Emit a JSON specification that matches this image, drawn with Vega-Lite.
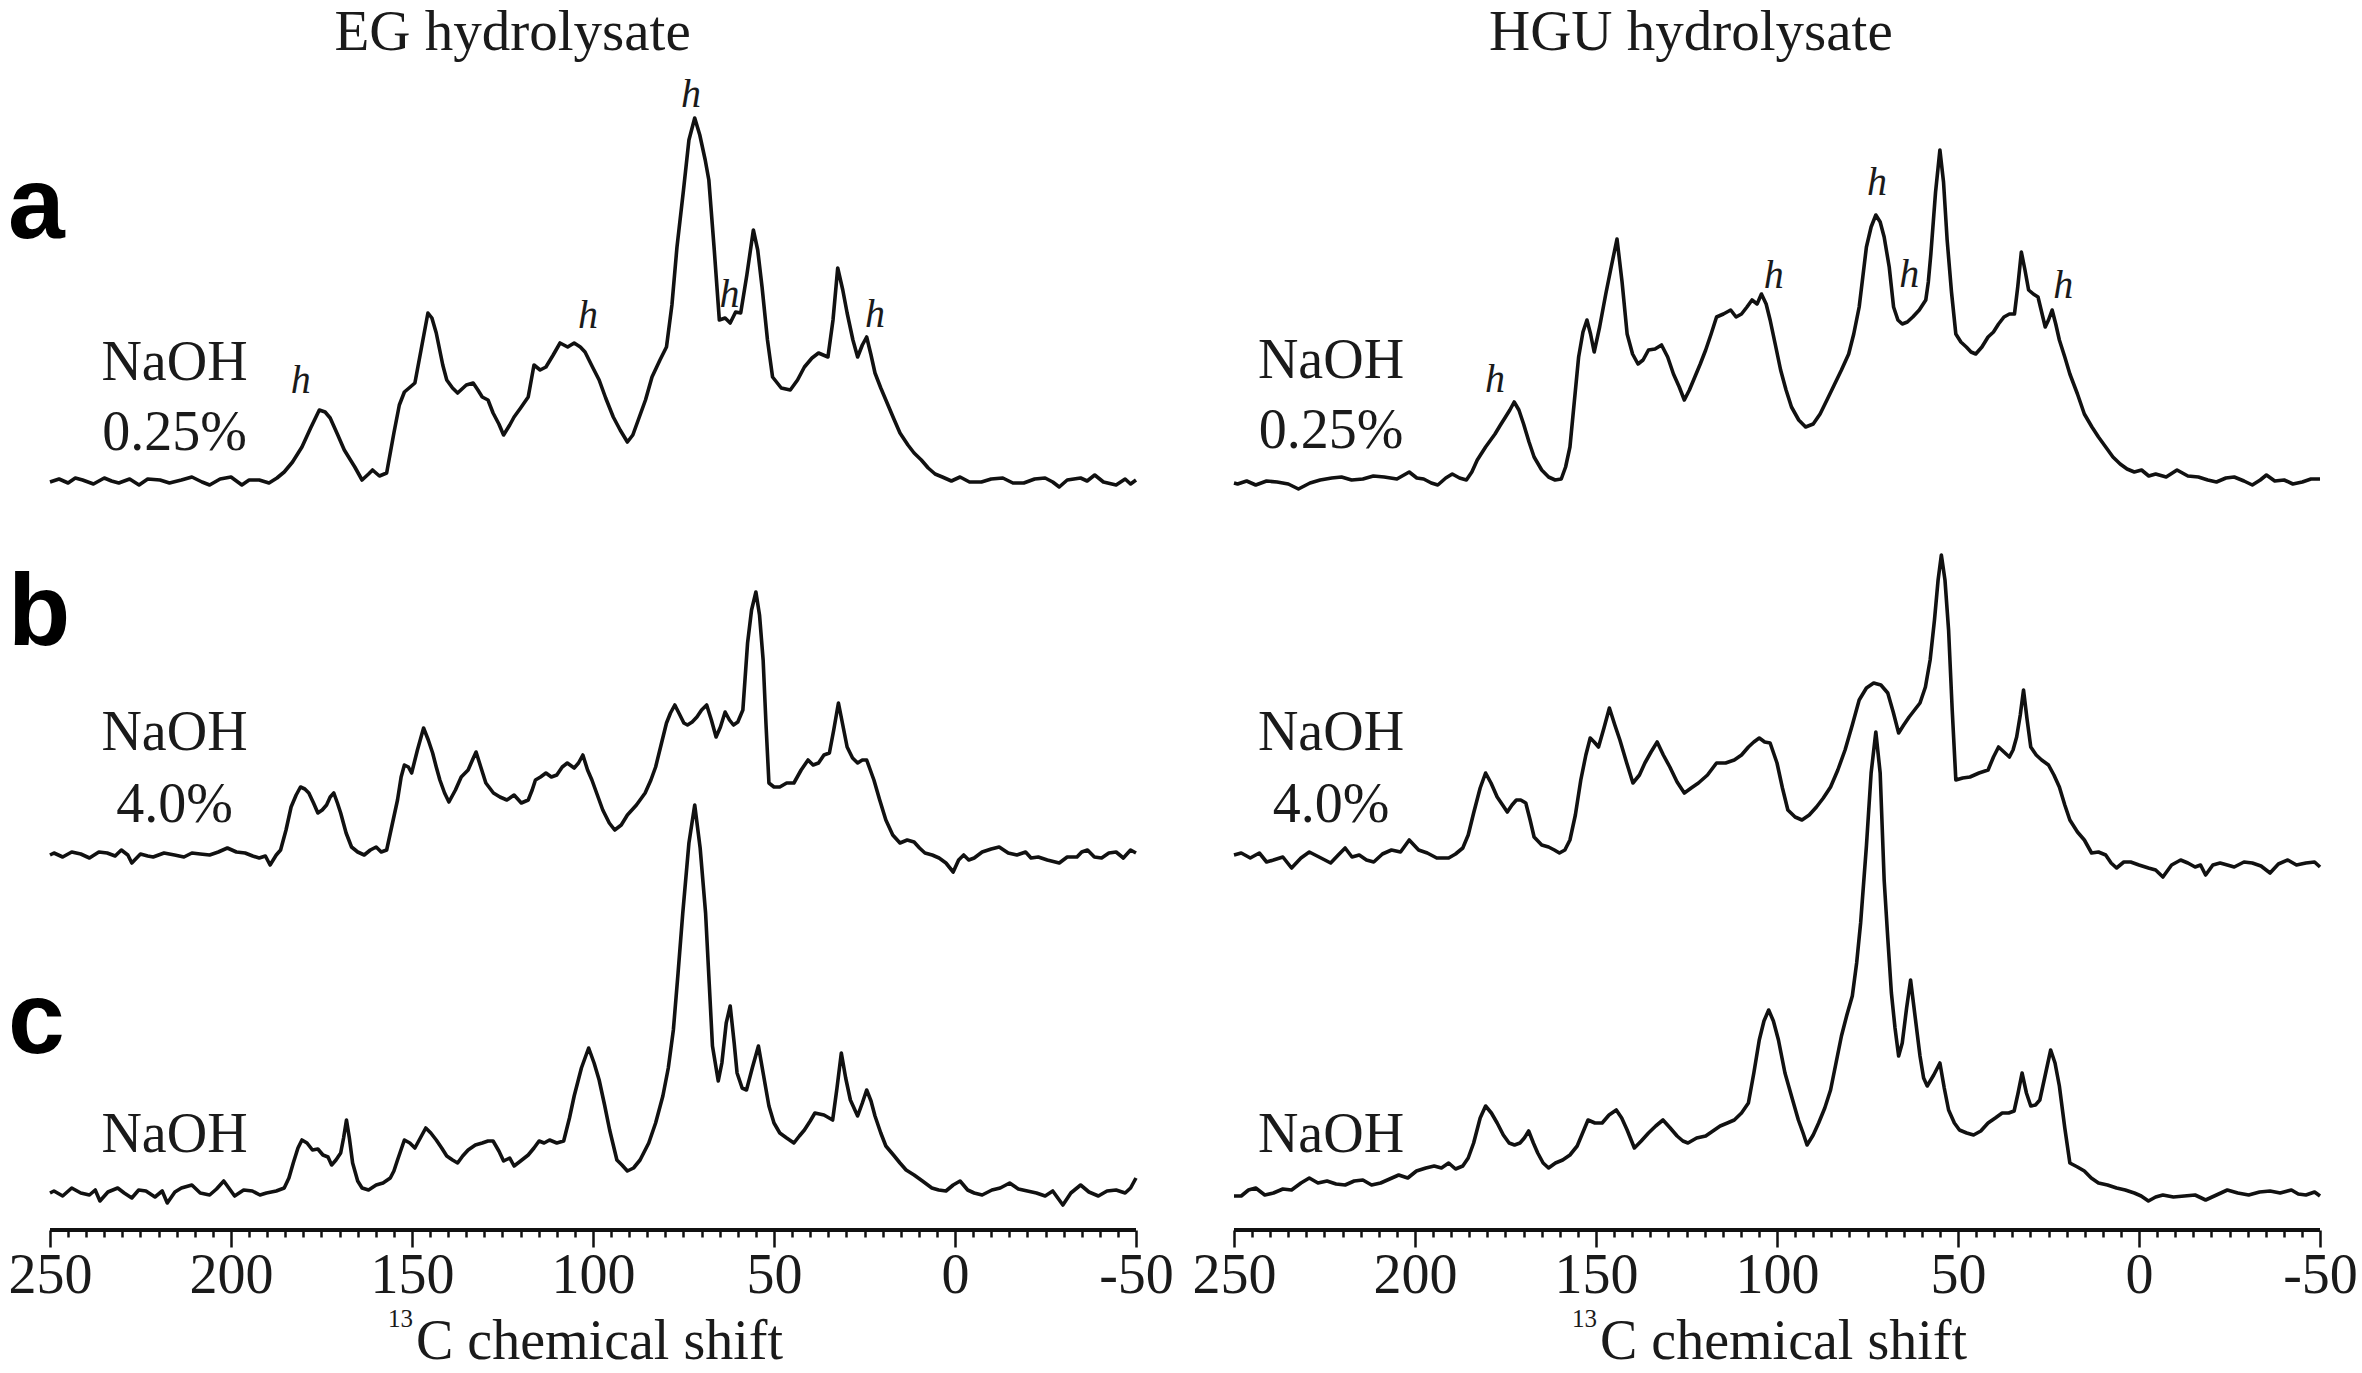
{
  "$schema": "https://vega.github.io/schema/vega-lite/v6.json",
  "description": "13C NMR spectra of EG and HGU hydrolysates at three NaOH levels.",
  "width": 2362,
  "height": 1373,
  "autosize": {"type": "none"},
  "padding": 0,
  "background": "white",
  "datasets": {
    "EGa": [
      {"ppm":250,"v":-2},{"ppm":247.5,"v":1},{"ppm":245,"v":-3},{"ppm":243,"v":2},{"ppm":241,"v":0},{"ppm":238,"v":-4},{"ppm":235,"v":2},{"ppm":233,"v":-1},{"ppm":231,"v":-3},{"ppm":228,"v":1},{"ppm":225.4,"v":-5},{"ppm":223,"v":1},{"ppm":219.6,"v":0},{"ppm":217,"v":-3},{"ppm":213.7,"v":0},{"ppm":210.8,"v":3},{"ppm":208,"v":-2},{"ppm":205.9,"v":-5},{"ppm":203,"v":1},{"ppm":200,"v":3},{"ppm":197,"v":-5},{"ppm":195,"v":0},{"ppm":192.2,"v":0},{"ppm":189.5,"v":-3},{"ppm":187.3,"v":2},{"ppm":185.3,"v":8},{"ppm":183,"v":18},{"ppm":180.4,"v":33},{"ppm":178,"v":52},{"ppm":175.6,"v":70},{"ppm":174,"v":68},{"ppm":172.6,"v":62},{"ppm":170.5,"v":45},{"ppm":168.7,"v":30},{"ppm":167,"v":20},{"ppm":165.8,"v":13},{"ppm":163.8,"v":0},{"ppm":162,"v":6},{"ppm":160.9,"v":10},{"ppm":159,"v":4},{"ppm":157,"v":7},{"ppm":155,"v":47},{"ppm":153.5,"v":75},{"ppm":152.1,"v":88},{"ppm":149.2,"v":97},{"ppm":147.5,"v":130},{"ppm":145.6,"v":167},{"ppm":144.5,"v":162},{"ppm":143.3,"v":147},{"ppm":141.5,"v":115},{"ppm":140.4,"v":100},{"ppm":138.8,"v":92},{"ppm":137.4,"v":87},{"ppm":135,"v":95},{"ppm":133.1,"v":97},{"ppm":131.8,"v":90},{"ppm":130.6,"v":83},{"ppm":129,"v":80},{"ppm":127.6,"v":67},{"ppm":126,"v":56},{"ppm":124.7,"v":45},{"ppm":123,"v":55},{"ppm":121.8,"v":63},{"ppm":120,"v":72},{"ppm":117.9,"v":83},{"ppm":116.3,"v":115},{"ppm":114.6,"v":110},{"ppm":113,"v":113},{"ppm":111,"v":125},{"ppm":109.1,"v":137},{"ppm":107,"v":133},{"ppm":105.2,"v":137},{"ppm":103.5,"v":133},{"ppm":102.2,"v":128},{"ppm":100,"v":112},{"ppm":98.3,"v":100},{"ppm":96.5,"v":82},{"ppm":94.4,"v":63},{"ppm":92.5,"v":50},{"ppm":90.5,"v":38},{"ppm":89,"v":45},{"ppm":87.5,"v":60},{"ppm":85.5,"v":80},{"ppm":83.7,"v":103},{"ppm":81.5,"v":120},{"ppm":79.7,"v":133},{"ppm":78.2,"v":175},{"ppm":76.8,"v":233},{"ppm":75,"v":290},{"ppm":73.5,"v":340},{"ppm":71.9,"v":362},{"ppm":70.5,"v":345},{"ppm":69,"v":320},{"ppm":68,"v":300},{"ppm":66.5,"v":230},{"ppm":65.1,"v":160},{"ppm":63.5,"v":162},{"ppm":62.1,"v":157},{"ppm":60.6,"v":168},{"ppm":59.2,"v":167},{"ppm":57.5,"v":205},{"ppm":55.7,"v":250},{"ppm":54.5,"v":230},{"ppm":53.3,"v":193},{"ppm":51.8,"v":140},{"ppm":50.4,"v":103},{"ppm":48,"v":92},{"ppm":45.5,"v":90},{"ppm":43.5,"v":100},{"ppm":41.6,"v":113},{"ppm":39.5,"v":122},{"ppm":37.7,"v":127},{"ppm":35.1,"v":123},{"ppm":33.7,"v":160},{"ppm":32.4,"v":212},{"ppm":31,"v":190},{"ppm":29.8,"v":167},{"ppm":28.2,"v":140},{"ppm":26.9,"v":123},{"ppm":25.6,"v":135},{"ppm":24.4,"v":143},{"ppm":23.2,"v":125},{"ppm":22.1,"v":107},{"ppm":20.5,"v":92},{"ppm":19.1,"v":80},{"ppm":17,"v":62},{"ppm":15.2,"v":47},{"ppm":13,"v":35},{"ppm":11.3,"v":27},{"ppm":9.3,"v":20},{"ppm":7.4,"v":12},{"ppm":5.5,"v":6},{"ppm":3.5,"v":3},{"ppm":1,"v":-1},{"ppm":-1.4,"v":3},{"ppm":-4,"v":-2},{"ppm":-7.3,"v":-2},{"ppm":-10,"v":1},{"ppm":-13.2,"v":2},{"ppm":-16,"v":-3},{"ppm":-19,"v":-3},{"ppm":-22,"v":1},{"ppm":-24.9,"v":2},{"ppm":-27,"v":-2},{"ppm":-28.8,"v":-7},{"ppm":-31,"v":0},{"ppm":-34.7,"v":2},{"ppm":-36.5,"v":-1},{"ppm":-38.6,"v":5},{"ppm":-41,"v":-2},{"ppm":-44.5,"v":-5},{"ppm":-47,"v":1},{"ppm":-48.5,"v":-4},{"ppm":-50,"v":0}
    ],
    "EGb": [
      {"ppm":250,"v":0},{"ppm":248.9,"v":2},{"ppm":246.5,"v":-2},{"ppm":244,"v":3},{"ppm":241.5,"v":1},{"ppm":239.1,"v":-3},{"ppm":236.5,"v":3},{"ppm":234.2,"v":2},{"ppm":232,"v":-1},{"ppm":230.3,"v":5},{"ppm":228.5,"v":0},{"ppm":227.4,"v":-8},{"ppm":225,"v":1},{"ppm":223,"v":-1},{"ppm":221.5,"v":-2},{"ppm":218.5,"v":2},{"ppm":215.6,"v":0},{"ppm":213,"v":-2},{"ppm":210.8,"v":2},{"ppm":208.5,"v":1},{"ppm":205.9,"v":0},{"ppm":203.5,"v":3},{"ppm":201,"v":7},{"ppm":198.5,"v":3},{"ppm":196.1,"v":2},{"ppm":194,"v":-1},{"ppm":192.2,"v":-3},{"ppm":190.5,"v":-1},{"ppm":189.2,"v":-10},{"ppm":187.5,"v":0},{"ppm":186.3,"v":5},{"ppm":184.8,"v":25},{"ppm":183.4,"v":48},{"ppm":182,"v":60},{"ppm":180.8,"v":68},{"ppm":179.6,"v":66},{"ppm":178.5,"v":62},{"ppm":177.2,"v":52},{"ppm":176,"v":42},{"ppm":174.8,"v":45},{"ppm":173.6,"v":50},{"ppm":172.6,"v":58},{"ppm":171.6,"v":62},{"ppm":170.6,"v":52},{"ppm":169.7,"v":42},{"ppm":168.2,"v":22},{"ppm":166.7,"v":8},{"ppm":165,"v":3},{"ppm":163.2,"v":0},{"ppm":161.5,"v":5},{"ppm":159.9,"v":8},{"ppm":158.5,"v":3},{"ppm":157,"v":5},{"ppm":155.5,"v":30},{"ppm":154,"v":55},{"ppm":153,"v":78},{"ppm":152.1,"v":90},{"ppm":151,"v":88},{"ppm":150.1,"v":82},{"ppm":148.5,"v":105},{"ppm":146.8,"v":127},{"ppm":145.5,"v":115},{"ppm":144.3,"v":102},{"ppm":143.3,"v":88},{"ppm":142.3,"v":75},{"ppm":141,"v":62},{"ppm":139.8,"v":53},{"ppm":138,"v":65},{"ppm":136.4,"v":78},{"ppm":134.5,"v":85},{"ppm":133.3,"v":95},{"ppm":132.3,"v":103},{"ppm":131,"v":88},{"ppm":129.6,"v":72},{"ppm":127.5,"v":62},{"ppm":125.7,"v":58},{"ppm":123.8,"v":55},{"ppm":121.8,"v":60},{"ppm":119.8,"v":52},{"ppm":117.9,"v":55},{"ppm":116.8,"v":65},{"ppm":115.9,"v":75},{"ppm":114.5,"v":78},{"ppm":113,"v":82},{"ppm":111.5,"v":78},{"ppm":110,"v":80},{"ppm":108.5,"v":88},{"ppm":107.1,"v":92},{"ppm":105.2,"v":87},{"ppm":104,"v":92},{"ppm":102.8,"v":100},{"ppm":101.5,"v":85},{"ppm":100.3,"v":75},{"ppm":98.8,"v":60},{"ppm":97.3,"v":45},{"ppm":95.5,"v":32},{"ppm":94,"v":25},{"ppm":92.2,"v":30},{"ppm":90.5,"v":40},{"ppm":88,"v":50},{"ppm":85.6,"v":62},{"ppm":84,"v":75},{"ppm":82.7,"v":88},{"ppm":81.2,"v":110},{"ppm":79.7,"v":132},{"ppm":78.6,"v":142},{"ppm":77.4,"v":150},{"ppm":76,"v":140},{"ppm":74.9,"v":132},{"ppm":73.9,"v":130},{"ppm":72.6,"v":133},{"ppm":71.3,"v":138},{"ppm":70,"v":145},{"ppm":68.6,"v":150},{"ppm":67.3,"v":135},{"ppm":66,"v":118},{"ppm":64.8,"v":128},{"ppm":63.5,"v":143},{"ppm":62.3,"v":135},{"ppm":61.2,"v":130},{"ppm":60,"v":133},{"ppm":58.6,"v":145},{"ppm":57.3,"v":212},{"ppm":56.2,"v":245},{"ppm":55,"v":263},{"ppm":54,"v":240},{"ppm":53,"v":195},{"ppm":52.2,"v":130},{"ppm":51.4,"v":72},{"ppm":50,"v":68},{"ppm":48.4,"v":68},{"ppm":46.5,"v":72},{"ppm":44.5,"v":72},{"ppm":42.5,"v":85},{"ppm":40.6,"v":95},{"ppm":39.2,"v":90},{"ppm":37.7,"v":92},{"ppm":36.2,"v":100},{"ppm":34.7,"v":102},{"ppm":33.5,"v":125},{"ppm":32.2,"v":152},{"ppm":31,"v":130},{"ppm":29.8,"v":108},{"ppm":28.3,"v":97},{"ppm":26.9,"v":92},{"ppm":25.6,"v":95},{"ppm":24.4,"v":95},{"ppm":23.4,"v":85},{"ppm":22.4,"v":75},{"ppm":20.8,"v":55},{"ppm":19.1,"v":35},{"ppm":17.2,"v":20},{"ppm":15.2,"v":12},{"ppm":13.2,"v":15},{"ppm":11.3,"v":13},{"ppm":9.8,"v":7},{"ppm":8.3,"v":2},{"ppm":6.3,"v":0},{"ppm":4.4,"v":-3},{"ppm":2.5,"v":-8},{"ppm":0.5,"v":-17},{"ppm":-1,"v":-5},{"ppm":-2.4,"v":0},{"ppm":-3.8,"v":-5},{"ppm":-5.3,"v":-3},{"ppm":-7.5,"v":3},{"ppm":-10,"v":6},{"ppm":-12.2,"v":8},{"ppm":-14.7,"v":2},{"ppm":-17.1,"v":0},{"ppm":-19.5,"v":3},{"ppm":-21,"v":-3},{"ppm":-23,"v":-2},{"ppm":-25.5,"v":-5},{"ppm":-28.8,"v":-8},{"ppm":-31,"v":-2},{"ppm":-33.7,"v":-2},{"ppm":-35,"v":3},{"ppm":-36.6,"v":5},{"ppm":-38.5,"v":-2},{"ppm":-40.5,"v":-3},{"ppm":-42.5,"v":2},{"ppm":-44.5,"v":3},{"ppm":-46.5,"v":-3},{"ppm":-48.5,"v":5},{"ppm":-50,"v":2}
    ],
    "EGc": [
      {"ppm":250,"v":0},{"ppm":248.9,"v":2},{"ppm":246.5,"v":-3},{"ppm":244,"v":5},{"ppm":241.5,"v":0},{"ppm":239.1,"v":-2},{"ppm":237.5,"v":3},{"ppm":236.2,"v":-8},{"ppm":234,"v":1},{"ppm":231.3,"v":5},{"ppm":229.5,"v":0},{"ppm":227.4,"v":-5},{"ppm":225.5,"v":3},{"ppm":223.5,"v":2},{"ppm":221,"v":-4},{"ppm":219,"v":2},{"ppm":217.6,"v":-10},{"ppm":215.5,"v":1},{"ppm":213.7,"v":5},{"ppm":210.8,"v":8},{"ppm":208.5,"v":0},{"ppm":205.9,"v":-2},{"ppm":204,"v":4},{"ppm":202,"v":12},{"ppm":199,"v":-3},{"ppm":196.5,"v":3},{"ppm":194.1,"v":2},{"ppm":192,"v":-2},{"ppm":190.2,"v":0},{"ppm":187.5,"v":2},{"ppm":185.3,"v":5},{"ppm":184,"v":15},{"ppm":182.8,"v":30},{"ppm":181.5,"v":45},{"ppm":180.4,"v":53},{"ppm":179,"v":50},{"ppm":177.5,"v":43},{"ppm":176,"v":44},{"ppm":174.6,"v":38},{"ppm":173.2,"v":36},{"ppm":172.2,"v":28},{"ppm":171,"v":33},{"ppm":169.7,"v":40},{"ppm":168.9,"v":55},{"ppm":168.1,"v":73},{"ppm":167.3,"v":55},{"ppm":166.4,"v":30},{"ppm":165,"v":12},{"ppm":163.8,"v":5},{"ppm":162,"v":3},{"ppm":159.9,"v":8},{"ppm":158,"v":10},{"ppm":156,"v":15},{"ppm":155,"v":22},{"ppm":154,"v":33},{"ppm":152.1,"v":53},{"ppm":150.6,"v":50},{"ppm":149.2,"v":45},{"ppm":147.7,"v":55},{"ppm":146.2,"v":65},{"ppm":144.8,"v":60},{"ppm":143.3,"v":53},{"ppm":141.8,"v":45},{"ppm":140.4,"v":37},{"ppm":138.8,"v":33},{"ppm":137.4,"v":30},{"ppm":136,"v":37},{"ppm":134.5,"v":43},{"ppm":132.5,"v":48},{"ppm":130.6,"v":50},{"ppm":129,"v":52},{"ppm":127.6,"v":52},{"ppm":126,"v":42},{"ppm":124.7,"v":32},{"ppm":123,"v":35},{"ppm":121.8,"v":27},{"ppm":120,"v":32},{"ppm":117.9,"v":38},{"ppm":116.3,"v":45},{"ppm":114.9,"v":52},{"ppm":113.5,"v":50},{"ppm":112,"v":53},{"ppm":110,"v":50},{"ppm":108.1,"v":52},{"ppm":106.5,"v":75},{"ppm":105.2,"v":97},{"ppm":103.2,"v":125},{"ppm":101.2,"v":145},{"ppm":99.7,"v":130},{"ppm":98.3,"v":113},{"ppm":96.8,"v":88},{"ppm":95.4,"v":63},{"ppm":93.4,"v":33},{"ppm":92,"v":28},{"ppm":90.5,"v":22},{"ppm":88.8,"v":25},{"ppm":87,"v":33},{"ppm":84.6,"v":50},{"ppm":82.7,"v":70},{"ppm":80.7,"v":97},{"ppm":79.2,"v":125},{"ppm":77.8,"v":163},{"ppm":76.5,"v":220},{"ppm":75.2,"v":280},{"ppm":73.5,"v":350},{"ppm":71.9,"v":388},{"ppm":70.4,"v":345},{"ppm":68.9,"v":280},{"ppm":67.9,"v":210},{"ppm":67,"v":147},{"ppm":65.4,"v":112},{"ppm":64.4,"v":130},{"ppm":63.2,"v":170},{"ppm":62.1,"v":187},{"ppm":61,"v":150},{"ppm":60.2,"v":120},{"ppm":58.8,"v":105},{"ppm":57.6,"v":103},{"ppm":56,"v":125},{"ppm":54.3,"v":147},{"ppm":53,"v":120},{"ppm":51.4,"v":87},{"ppm":50,"v":70},{"ppm":48.4,"v":60},{"ppm":46.5,"v":55},{"ppm":44.5,"v":50},{"ppm":43,"v":57},{"ppm":41.6,"v":63},{"ppm":40,"v":72},{"ppm":38.7,"v":80},{"ppm":36.2,"v":78},{"ppm":33.8,"v":73},{"ppm":32.6,"v":105},{"ppm":31.4,"v":140},{"ppm":30.2,"v":115},{"ppm":28.9,"v":93},{"ppm":26.9,"v":77},{"ppm":25.6,"v":90},{"ppm":24.4,"v":103},{"ppm":23.2,"v":92},{"ppm":22.1,"v":77},{"ppm":20.5,"v":60},{"ppm":19.1,"v":47},{"ppm":17,"v":38},{"ppm":15.2,"v":30},{"ppm":13.5,"v":23},{"ppm":11.3,"v":18},{"ppm":9,"v":12},{"ppm":6.4,"v":5},{"ppm":4.5,"v":3},{"ppm":2.5,"v":2},{"ppm":0.5,"v":8},{"ppm":-1.4,"v":12},{"ppm":-3.5,"v":3},{"ppm":-5.3,"v":0},{"ppm":-7.5,"v":-2},{"ppm":-10.2,"v":3},{"ppm":-12.5,"v":5},{"ppm":-15.1,"v":10},{"ppm":-17.5,"v":4},{"ppm":-20,"v":2},{"ppm":-22.5,"v":0},{"ppm":-24.9,"v":-3},{"ppm":-27,"v":2},{"ppm":-29.8,"v":-12},{"ppm":-32,"v":0},{"ppm":-34.7,"v":8},{"ppm":-37,"v":1},{"ppm":-39.6,"v":-3},{"ppm":-42,"v":2},{"ppm":-44.5,"v":3},{"ppm":-47,"v":0},{"ppm":-48.5,"v":5},{"ppm":-50,"v":15}
    ],
    "HGUa": [
      {"ppm":250,"v":-1},{"ppm":249,"v":-2},{"ppm":246.5,"v":1},{"ppm":244,"v":-3},{"ppm":241,"v":1},{"ppm":238.1,"v":0},{"ppm":235,"v":-2},{"ppm":232.2,"v":-7},{"ppm":229,"v":-1},{"ppm":226.2,"v":2},{"ppm":223,"v":4},{"ppm":220.3,"v":5},{"ppm":217.5,"v":2},{"ppm":214.4,"v":3},{"ppm":211.5,"v":6},{"ppm":208.5,"v":5},{"ppm":205,"v":3},{"ppm":201.6,"v":10},{"ppm":199.5,"v":4},{"ppm":197.6,"v":3},{"ppm":195.5,"v":-1},{"ppm":193.7,"v":-3},{"ppm":191.5,"v":4},{"ppm":189.7,"v":8},{"ppm":187.7,"v":4},{"ppm":185.8,"v":2},{"ppm":184.3,"v":10},{"ppm":182.8,"v":22},{"ppm":180.5,"v":35},{"ppm":177.9,"v":48},{"ppm":176.4,"v":57},{"ppm":175,"v":65},{"ppm":173.8,"v":72},{"ppm":172.6,"v":80},{"ppm":171.3,"v":72},{"ppm":170,"v":58},{"ppm":168.5,"v":40},{"ppm":167.1,"v":25},{"ppm":165,"v":12},{"ppm":163.1,"v":5},{"ppm":161.3,"v":2},{"ppm":159.6,"v":3},{"ppm":158.4,"v":15},{"ppm":157.2,"v":35},{"ppm":156,"v":80},{"ppm":154.8,"v":125},{"ppm":153.6,"v":150},{"ppm":152.5,"v":162},{"ppm":151.5,"v":148},{"ppm":150.5,"v":130},{"ppm":149,"v":155},{"ppm":147.3,"v":188},{"ppm":145.8,"v":215},{"ppm":144.2,"v":243},{"ppm":142.8,"v":200},{"ppm":141.4,"v":148},{"ppm":139.9,"v":128},{"ppm":138.4,"v":118},{"ppm":137,"v":122},{"ppm":135.5,"v":132},{"ppm":133.7,"v":133},{"ppm":131.9,"v":137},{"ppm":130.2,"v":125},{"ppm":128.6,"v":108},{"ppm":127,"v":95},{"ppm":125.6,"v":82},{"ppm":124.2,"v":92},{"ppm":122.7,"v":105},{"ppm":121.2,"v":118},{"ppm":119.7,"v":132},{"ppm":118.2,"v":148},{"ppm":116.7,"v":165},{"ppm":114.8,"v":168},{"ppm":112.8,"v":172},{"ppm":111.3,"v":165},{"ppm":109.8,"v":168},{"ppm":108.3,"v":175},{"ppm":106.9,"v":182},{"ppm":105.5,"v":178},{"ppm":104.3,"v":188},{"ppm":103,"v":178},{"ppm":101.9,"v":162},{"ppm":100.5,"v":138},{"ppm":99,"v":112},{"ppm":97.5,"v":92},{"ppm":96,"v":75},{"ppm":94,"v":62},{"ppm":92.1,"v":55},{"ppm":90,"v":58},{"ppm":88.1,"v":68},{"ppm":86.2,"v":82},{"ppm":84.2,"v":97},{"ppm":82.2,"v":112},{"ppm":80.2,"v":128},{"ppm":78.8,"v":148},{"ppm":77.3,"v":175},{"ppm":76.3,"v":205},{"ppm":75.3,"v":235},{"ppm":74,"v":255},{"ppm":72.7,"v":267},{"ppm":71.5,"v":260},{"ppm":70.4,"v":245},{"ppm":69,"v":215},{"ppm":67.8,"v":175},{"ppm":66.6,"v":162},{"ppm":65.4,"v":158},{"ppm":64,"v":160},{"ppm":62.5,"v":165},{"ppm":60.7,"v":172},{"ppm":58.9,"v":182},{"ppm":58.2,"v":200},{"ppm":57.5,"v":228},{"ppm":56.2,"v":290},{"ppm":55,"v":332},{"ppm":54,"v":300},{"ppm":53,"v":242},{"ppm":51.8,"v":190},{"ppm":50.6,"v":148},{"ppm":49.2,"v":140},{"ppm":47.7,"v":135},{"ppm":46.4,"v":130},{"ppm":45.1,"v":128},{"ppm":43.4,"v":135},{"ppm":41.7,"v":145},{"ppm":40.2,"v":150},{"ppm":38.8,"v":158},{"ppm":37.3,"v":165},{"ppm":35.8,"v":168},{"ppm":34.4,"v":168},{"ppm":33.5,"v":195},{"ppm":32.5,"v":230},{"ppm":31.5,"v":212},{"ppm":30.5,"v":192},{"ppm":29.2,"v":188},{"ppm":27.9,"v":185},{"ppm":26.9,"v":170},{"ppm":25.9,"v":155},{"ppm":25,"v":162},{"ppm":24,"v":172},{"ppm":23,"v":158},{"ppm":22,"v":142},{"ppm":20.5,"v":125},{"ppm":19.1,"v":108},{"ppm":17,"v":88},{"ppm":15.1,"v":68},{"ppm":13,"v":55},{"ppm":11.2,"v":45},{"ppm":9.2,"v":35},{"ppm":7.2,"v":25},{"ppm":5.2,"v":18},{"ppm":3.3,"v":13},{"ppm":1.3,"v":10},{"ppm":-0.7,"v":12},{"ppm":-2.7,"v":6},{"ppm":-4.6,"v":8},{"ppm":-7.5,"v":5},{"ppm":-10.5,"v":12},{"ppm":-13.5,"v":6},{"ppm":-16.4,"v":5},{"ppm":-19,"v":2},{"ppm":-21.4,"v":0},{"ppm":-24,"v":4},{"ppm":-26.3,"v":5},{"ppm":-29,"v":1},{"ppm":-31.3,"v":-3},{"ppm":-33.5,"v":2},{"ppm":-35.2,"v":7},{"ppm":-37.5,"v":1},{"ppm":-40.1,"v":2},{"ppm":-42.5,"v":-2},{"ppm":-45.1,"v":0},{"ppm":-47.5,"v":3},{"ppm":-50,"v":3}
    ],
    "HGUb": [
      {"ppm":250,"v":5},{"ppm":248,"v":7},{"ppm":245.5,"v":2},{"ppm":243,"v":7},{"ppm":241,"v":-2},{"ppm":239.1,"v":0},{"ppm":236.5,"v":3},{"ppm":234.1,"v":-8},{"ppm":231.5,"v":2},{"ppm":229.2,"v":8},{"ppm":226.5,"v":3},{"ppm":223.3,"v":-3},{"ppm":221.2,"v":5},{"ppm":219.3,"v":12},{"ppm":217.4,"v":3},{"ppm":215.4,"v":5},{"ppm":213.4,"v":0},{"ppm":211.4,"v":-2},{"ppm":209,"v":6},{"ppm":206.5,"v":10},{"ppm":204,"v":8},{"ppm":201.6,"v":20},{"ppm":199,"v":10},{"ppm":196.6,"v":7},{"ppm":194,"v":2},{"ppm":190.7,"v":2},{"ppm":188.8,"v":6},{"ppm":186.8,"v":12},{"ppm":185.3,"v":25},{"ppm":183.8,"v":47},{"ppm":182,"v":72},{"ppm":180.5,"v":87},{"ppm":179,"v":77},{"ppm":177.3,"v":63},{"ppm":175.8,"v":55},{"ppm":174.5,"v":48},{"ppm":173.2,"v":55},{"ppm":172,"v":60},{"ppm":170.8,"v":60},{"ppm":169.4,"v":57},{"ppm":168.2,"v":40},{"ppm":167.1,"v":23},{"ppm":165,"v":15},{"ppm":163.1,"v":13},{"ppm":161.5,"v":10},{"ppm":160.1,"v":7},{"ppm":158.6,"v":10},{"ppm":157.2,"v":20},{"ppm":155.7,"v":45},{"ppm":154.2,"v":80},{"ppm":152.8,"v":105},{"ppm":151.6,"v":122},{"ppm":150.5,"v":118},{"ppm":149.3,"v":113},{"ppm":147.8,"v":132},{"ppm":146.3,"v":152},{"ppm":144.8,"v":135},{"ppm":143.4,"v":120},{"ppm":141.6,"v":98},{"ppm":139.8,"v":77},{"ppm":138,"v":85},{"ppm":136.5,"v":97},{"ppm":134.8,"v":108},{"ppm":133.1,"v":118},{"ppm":131.4,"v":105},{"ppm":129.6,"v":93},{"ppm":127.6,"v":78},{"ppm":125.6,"v":67},{"ppm":123.7,"v":72},{"ppm":121.7,"v":77},{"ppm":119.2,"v":85},{"ppm":116.7,"v":97},{"ppm":114.2,"v":97},{"ppm":111.8,"v":100},{"ppm":109.8,"v":105},{"ppm":107.9,"v":113},{"ppm":106.4,"v":118},{"ppm":104.9,"v":122},{"ppm":103.4,"v":118},{"ppm":101.9,"v":117},{"ppm":100,"v":97},{"ppm":98.5,"v":72},{"ppm":97,"v":50},{"ppm":95,"v":43},{"ppm":93.1,"v":40},{"ppm":91.1,"v":45},{"ppm":89.1,"v":53},{"ppm":87.2,"v":62},{"ppm":85.2,"v":73},{"ppm":83.2,"v":90},{"ppm":81.2,"v":110},{"ppm":79.2,"v":135},{"ppm":77.3,"v":160},{"ppm":75.3,"v":172},{"ppm":73.3,"v":177},{"ppm":71.3,"v":175},{"ppm":69.4,"v":167},{"ppm":67.9,"v":148},{"ppm":66.4,"v":127},{"ppm":65,"v":135},{"ppm":63.5,"v":143},{"ppm":62,"v":150},{"ppm":60.5,"v":157},{"ppm":59,"v":173},{"ppm":57.7,"v":200},{"ppm":56.5,"v":240},{"ppm":55.5,"v":280},{"ppm":54.6,"v":305},{"ppm":53.6,"v":280},{"ppm":52.6,"v":230},{"ppm":51.6,"v":150},{"ppm":50.6,"v":80},{"ppm":48.7,"v":82},{"ppm":46.7,"v":83},{"ppm":44.2,"v":87},{"ppm":41.7,"v":90},{"ppm":40.2,"v":103},{"ppm":38.8,"v":113},{"ppm":37.3,"v":108},{"ppm":35.8,"v":103},{"ppm":34.8,"v":110},{"ppm":33.8,"v":123},{"ppm":32.8,"v":145},{"ppm":31.9,"v":170},{"ppm":30.9,"v":140},{"ppm":29.9,"v":113},{"ppm":28.4,"v":105},{"ppm":26.9,"v":100},{"ppm":25,"v":95},{"ppm":23.5,"v":85},{"ppm":22,"v":73},{"ppm":20.5,"v":55},{"ppm":19.1,"v":40},{"ppm":17,"v":28},{"ppm":15.1,"v":20},{"ppm":13.1,"v":7},{"ppm":11.2,"v":8},{"ppm":9.2,"v":5},{"ppm":7.7,"v":-3},{"ppm":6.2,"v":-8},{"ppm":4.2,"v":-2},{"ppm":2.3,"v":-2},{"ppm":0,"v":-5},{"ppm":-2.6,"v":-8},{"ppm":-4.6,"v":-10},{"ppm":-6.6,"v":-17},{"ppm":-9,"v":-5},{"ppm":-11.5,"v":0},{"ppm":-13.5,"v":-3},{"ppm":-15.5,"v":-7},{"ppm":-17,"v":-5},{"ppm":-18.4,"v":-15},{"ppm":-20.4,"v":-5},{"ppm":-22.4,"v":-3},{"ppm":-24.4,"v":-5},{"ppm":-26.3,"v":-7},{"ppm":-29,"v":-2},{"ppm":-31.3,"v":-3},{"ppm":-33.7,"v":-6},{"ppm":-36.2,"v":-13},{"ppm":-38.5,"v":-4},{"ppm":-41.1,"v":0},{"ppm":-43.5,"v":-5},{"ppm":-46.1,"v":-3},{"ppm":-48.5,"v":-2},{"ppm":-50,"v":-7}
    ],
    "HGUc": [
      {"ppm":250,"v":-3},{"ppm":248,"v":-3},{"ppm":246,"v":3},{"ppm":244,"v":5},{"ppm":241.5,"v":-2},{"ppm":239.1,"v":0},{"ppm":236.5,"v":4},{"ppm":234.1,"v":3},{"ppm":231.5,"v":10},{"ppm":229.2,"v":15},{"ppm":226.8,"v":10},{"ppm":224.3,"v":12},{"ppm":221.8,"v":9},{"ppm":219.3,"v":8},{"ppm":216.8,"v":12},{"ppm":214.4,"v":13},{"ppm":212,"v":8},{"ppm":209.5,"v":10},{"ppm":207,"v":14},{"ppm":204.5,"v":18},{"ppm":202,"v":15},{"ppm":199.6,"v":22},{"ppm":197,"v":25},{"ppm":194.7,"v":27},{"ppm":192.7,"v":25},{"ppm":190.7,"v":30},{"ppm":188.8,"v":24},{"ppm":186.8,"v":27},{"ppm":185.3,"v":35},{"ppm":183.8,"v":50},{"ppm":182,"v":75},{"ppm":180.5,"v":87},{"ppm":178.9,"v":80},{"ppm":177.3,"v":70},{"ppm":175.6,"v":58},{"ppm":174,"v":50},{"ppm":172.5,"v":48},{"ppm":171,"v":50},{"ppm":169.8,"v":55},{"ppm":168.6,"v":62},{"ppm":167.3,"v":50},{"ppm":166.1,"v":40},{"ppm":164.6,"v":30},{"ppm":163.1,"v":25},{"ppm":161.2,"v":30},{"ppm":159.2,"v":33},{"ppm":157.2,"v":38},{"ppm":155.2,"v":47},{"ppm":153.7,"v":60},{"ppm":152.2,"v":73},{"ppm":150.3,"v":70},{"ppm":148.3,"v":70},{"ppm":146.4,"v":78},{"ppm":144.4,"v":83},{"ppm":142.9,"v":75},{"ppm":141.4,"v":63},{"ppm":139.4,"v":45},{"ppm":137.5,"v":52},{"ppm":135.5,"v":60},{"ppm":133.5,"v":67},{"ppm":131.5,"v":73},{"ppm":129.5,"v":65},{"ppm":127.6,"v":57},{"ppm":126,"v":52},{"ppm":124.6,"v":50},{"ppm":122.2,"v":55},{"ppm":119.7,"v":57},{"ppm":117.7,"v":62},{"ppm":115.7,"v":67},{"ppm":113.7,"v":70},{"ppm":111.8,"v":73},{"ppm":109.8,"v":80},{"ppm":107.9,"v":90},{"ppm":106.4,"v":120},{"ppm":104.9,"v":153},{"ppm":103.6,"v":172},{"ppm":102.3,"v":183},{"ppm":101,"v":172},{"ppm":99.6,"v":153},{"ppm":97.8,"v":120},{"ppm":96,"v":97},{"ppm":94.1,"v":73},{"ppm":92.8,"v":60},{"ppm":91.7,"v":48},{"ppm":90,"v":58},{"ppm":88.5,"v":70},{"ppm":86.8,"v":85},{"ppm":85.2,"v":103},{"ppm":83.7,"v":130},{"ppm":82.2,"v":157},{"ppm":80.7,"v":178},{"ppm":79.2,"v":197},{"ppm":78,"v":230},{"ppm":76.9,"v":270},{"ppm":75.3,"v":347},{"ppm":74,"v":420},{"ppm":72.7,"v":461},{"ppm":71.5,"v":420},{"ppm":70.4,"v":313},{"ppm":69.4,"v":255},{"ppm":68.4,"v":200},{"ppm":67.4,"v":165},{"ppm":66.4,"v":137},{"ppm":65.4,"v":150},{"ppm":64.2,"v":185},{"ppm":63.1,"v":213},{"ppm":61.8,"v":175},{"ppm":60.5,"v":137},{"ppm":59.5,"v":115},{"ppm":58.5,"v":107},{"ppm":56.7,"v":118},{"ppm":55,"v":130},{"ppm":53.8,"v":105},{"ppm":52.6,"v":83},{"ppm":51,"v":70},{"ppm":49.6,"v":63},{"ppm":47.6,"v":60},{"ppm":45.7,"v":58},{"ppm":43.7,"v":62},{"ppm":41.7,"v":70},{"ppm":39.7,"v":75},{"ppm":37.8,"v":80},{"ppm":36,"v":80},{"ppm":34.5,"v":82},{"ppm":33.4,"v":100},{"ppm":32.3,"v":120},{"ppm":31.1,"v":100},{"ppm":29.9,"v":87},{"ppm":28.6,"v":88},{"ppm":27.4,"v":93},{"ppm":25.9,"v":118},{"ppm":24.4,"v":143},{"ppm":23.2,"v":130},{"ppm":22,"v":107},{"ppm":20.5,"v":65},{"ppm":19.1,"v":30},{"ppm":17,"v":26},{"ppm":15.1,"v":22},{"ppm":13.2,"v":15},{"ppm":11.2,"v":10},{"ppm":8.7,"v":8},{"ppm":6.2,"v":5},{"ppm":3.8,"v":3},{"ppm":1.3,"v":0},{"ppm":-0.6,"v":-3},{"ppm":-2.6,"v":-8},{"ppm":-4.6,"v":-4},{"ppm":-6.6,"v":-2},{"ppm":-9.5,"v":-4},{"ppm":-12.5,"v":-3},{"ppm":-15.5,"v":-2},{"ppm":-18.4,"v":-7},{"ppm":-21.4,"v":-2},{"ppm":-24.4,"v":3},{"ppm":-27.3,"v":0},{"ppm":-30.3,"v":-2},{"ppm":-33.3,"v":1},{"ppm":-36.2,"v":2},{"ppm":-39,"v":0},{"ppm":-42.1,"v":3},{"ppm":-44,"v":-1},{"ppm":-46.1,"v":-2},{"ppm":-48.5,"v":1},{"ppm":-50,"v":-3}
    ],
    "labels": [
      {"trace":"EGa","kind":"panel","label":"a","ppm":261.6,"v":242},
      {"trace":"EGa","kind":"note","label":"NaOH","ppm":215.6,"v":100},
      {"trace":"EGa","kind":"note","label":"0.25%","ppm":215.6,"v":30},
      {"trace":"EGa","kind":"title","label":"EG hydrolysate","ppm":122.2,"v":430},
      {"trace":"EGa","kind":"h","label":"h","ppm":180.7,"v":87},
      {"trace":"EGa","kind":"h","label":"h","ppm":101.4,"v":152},
      {"trace":"EGa","kind":"h","label":"h","ppm":72.9,"v":373},
      {"trace":"EGa","kind":"h","label":"h","ppm":62.3,"v":173},
      {"trace":"EGa","kind":"h","label":"h","ppm":22.1,"v":153},
      {"trace":"EGb","kind":"panel","label":"b","ppm":261.6,"v":210},
      {"trace":"EGb","kind":"note","label":"NaOH","ppm":215.6,"v":105},
      {"trace":"EGb","kind":"note","label":"4.0%","ppm":215.6,"v":33},
      {"trace":"EGc","kind":"panel","label":"c","ppm":261.6,"v":140},
      {"trace":"EGc","kind":"note","label":"NaOH","ppm":215.6,"v":41},
      {"trace":"EGc","kind":"axtitle","label":"C chemical shift","ppm":148.9,"v":-166},
      {"trace":"EGc","kind":"sup","label":"13","ppm":156.6,"v":-134},
      {"trace":"HGUa","kind":"note","label":"NaOH","ppm":223.2,"v":104},
      {"trace":"HGUa","kind":"note","label":"0.25%","ppm":223.2,"v":34},
      {"trace":"HGUa","kind":"title","label":"HGU hydrolysate","ppm":123.8,"v":432},
      {"trace":"HGUa","kind":"h","label":"h","ppm":177.9,"v":90},
      {"trace":"HGUa","kind":"h","label":"h","ppm":100.9,"v":194},
      {"trace":"HGUa","kind":"h","label":"h","ppm":72.4,"v":287},
      {"trace":"HGUa","kind":"h","label":"h","ppm":63.5,"v":195},
      {"trace":"HGUa","kind":"h","label":"h","ppm":20.9,"v":184},
      {"trace":"HGUb","kind":"note","label":"NaOH","ppm":223.2,"v":110},
      {"trace":"HGUb","kind":"note","label":"4.0%","ppm":223.2,"v":38},
      {"trace":"HGUc","kind":"note","label":"NaOH","ppm":223.2,"v":41},
      {"trace":"HGUc","kind":"axtitle","label":"C chemical shift","ppm":148.9,"v":-166},
      {"trace":"HGUc","kind":"sup","label":"13","ppm":156.6,"v":-134}
    ]
  },
  "layer": [
    {
      "encoding": {
        "x": {"field": "ppm", "type": "quantitative", "scale": {"domain": [263.81, -388.67], "nice": false, "zero": false}, "axis": null},
        "y": {"field": "v", "type": "quantitative", "scale": {"domain": [-893, 480], "nice": false, "zero": false}, "axis": null}
      },
      "layer": [
        {"data": {"name": "EGa"}, "mark": {"type": "line", "stroke": "#111", "strokeWidth": 3.6, "strokeJoin": "round"}},
        {"data": {"name": "labels"}, "transform": [{"filter": "datum.trace === 'EGa' && datum.kind === 'note'"}], "mark": {"type": "text", "font": "Liberation Serif", "fontSize": 56, "align": "center", "baseline": "alphabetic", "color": "#1a1a1a"}, "encoding": {"text": {"field": "label"}}},
        {"data": {"name": "labels"}, "transform": [{"filter": "datum.trace === 'EGa' && datum.kind === 'title'"}], "mark": {"type": "text", "font": "Liberation Serif", "fontSize": 57, "align": "center", "baseline": "alphabetic", "color": "#1a1a1a"}, "encoding": {"text": {"field": "label"}}},
        {"data": {"name": "labels"}, "transform": [{"filter": "datum.trace === 'EGa' && datum.kind === 'h'"}], "mark": {"type": "text", "font": "Liberation Serif", "fontStyle": "italic", "fontSize": 40, "align": "center", "baseline": "alphabetic", "color": "#1a1a1a"}, "encoding": {"text": {"field": "label"}}},
        {"data": {"name": "labels"}, "transform": [{"filter": "datum.trace === 'EGa' && datum.kind === 'panel'"}], "mark": {"type": "text", "font": "Liberation Sans", "fontWeight": "bold", "fontSize": 102, "align": "left", "baseline": "alphabetic", "color": "#000"}, "encoding": {"text": {"field": "label"}}}
      ]
    },
    {
      "encoding": {
        "x": {"field": "ppm", "type": "quantitative", "scale": {"domain": [263.81, -388.67], "nice": false, "zero": false}, "axis": null},
        "y": {"field": "v", "type": "quantitative", "scale": {"domain": [-518, 855], "nice": false, "zero": false}, "axis": null}
      },
      "layer": [
        {"data": {"name": "EGb"}, "mark": {"type": "line", "stroke": "#111", "strokeWidth": 3.6, "strokeJoin": "round"}},
        {"data": {"name": "labels"}, "transform": [{"filter": "datum.trace === 'EGb' && datum.kind === 'note'"}], "mark": {"type": "text", "font": "Liberation Serif", "fontSize": 56, "align": "center", "baseline": "alphabetic", "color": "#1a1a1a"}, "encoding": {"text": {"field": "label"}}},
        {"data": {"name": "labels"}, "transform": [{"filter": "datum.trace === 'EGb' && datum.kind === 'panel'"}], "mark": {"type": "text", "font": "Liberation Sans", "fontWeight": "bold", "fontSize": 102, "align": "left", "baseline": "alphabetic", "color": "#000"}, "encoding": {"text": {"field": "label"}}}
      ]
    },
    {
      "encoding": {
        "x": {
          "field": "ppm", "type": "quantitative",
          "scale": {"domain": [263.81, -388.67], "nice": false, "zero": false},
          "axis": {
            "orient": "bottom", "offset": -143, "title": null, "domain": false, "grid": false,
            "values": [250,245,240,235,230,225,220,215,210,205,200,195,190,185,180,175,170,165,160,155,150,145,140,135,130,125,120,115,110,105,100,95,90,85,80,75,70,65,60,55,50,45,40,35,30,25,20,15,10,5,0,-5,-10,-15,-20,-25,-30,-35,-40,-45,-50],
            "tickColor": "#111", "tickWidth": 2.5,
            "tickSize": {"condition": {"test": "datum.value % 50 === 0", "value": 17}, "value": 7},
            "labelExpr": "datum.value % 50 === 0 ? '' + datum.value : ''",
            "labelFont": "Liberation Serif", "labelFontSize": 56, "labelColor": "#1a1a1a",
            "labelPadding": 1, "labelOverlap": false, "labelFlush": false, "labelBound": false
          }
        },
        "y": {"field": "v", "type": "quantitative", "scale": {"domain": [-180, 1193], "nice": false, "zero": false}, "axis": null}
      },
      "layer": [
        {"data": {"name": "EGc"}, "mark": {"type": "line", "stroke": "#111", "strokeWidth": 3.6, "strokeJoin": "round"}},
        {"data": {"values": [{"ppm": 250, "ppm_end": -50, "v": -37}]}, "mark": {"type": "rule", "stroke": "#111", "strokeWidth": 4}, "encoding": {"x2": {"field": "ppm_end"}}},
        {"data": {"name": "labels"}, "transform": [{"filter": "datum.trace === 'EGc' && datum.kind === 'note'"}], "mark": {"type": "text", "font": "Liberation Serif", "fontSize": 56, "align": "center", "baseline": "alphabetic", "color": "#1a1a1a"}, "encoding": {"text": {"field": "label"}}},
        {"data": {"name": "labels"}, "transform": [{"filter": "datum.trace === 'EGc' && datum.kind === 'axtitle'"}], "mark": {"type": "text", "font": "Liberation Serif", "fontSize": 56, "align": "left", "baseline": "alphabetic", "color": "#1a1a1a"}, "encoding": {"text": {"field": "label"}}},
        {"data": {"name": "labels"}, "transform": [{"filter": "datum.trace === 'EGc' && datum.kind === 'sup'"}], "mark": {"type": "text", "font": "Liberation Serif", "fontSize": 25, "align": "left", "baseline": "alphabetic", "color": "#1a1a1a"}, "encoding": {"text": {"field": "label"}}},
        {"data": {"name": "labels"}, "transform": [{"filter": "datum.trace === 'EGc' && datum.kind === 'panel'"}], "mark": {"type": "text", "font": "Liberation Sans", "fontWeight": "bold", "fontSize": 102, "align": "left", "baseline": "alphabetic", "color": "#000"}, "encoding": {"text": {"field": "label"}}}
      ]
    },
    {
      "encoding": {
        "x": {"field": "ppm", "type": "quantitative", "scale": {"domain": [590.88, -61.6], "nice": false, "zero": false}, "axis": null},
        "y": {"field": "v", "type": "quantitative", "scale": {"domain": [-891, 482], "nice": false, "zero": false}, "axis": null}
      },
      "layer": [
        {"data": {"name": "HGUa"}, "mark": {"type": "line", "stroke": "#111", "strokeWidth": 3.6, "strokeJoin": "round"}},
        {"data": {"name": "labels"}, "transform": [{"filter": "datum.trace === 'HGUa' && datum.kind === 'note'"}], "mark": {"type": "text", "font": "Liberation Serif", "fontSize": 56, "align": "center", "baseline": "alphabetic", "color": "#1a1a1a"}, "encoding": {"text": {"field": "label"}}},
        {"data": {"name": "labels"}, "transform": [{"filter": "datum.trace === 'HGUa' && datum.kind === 'title'"}], "mark": {"type": "text", "font": "Liberation Serif", "fontSize": 57, "align": "center", "baseline": "alphabetic", "color": "#1a1a1a"}, "encoding": {"text": {"field": "label"}}},
        {"data": {"name": "labels"}, "transform": [{"filter": "datum.trace === 'HGUa' && datum.kind === 'h'"}], "mark": {"type": "text", "font": "Liberation Serif", "fontStyle": "italic", "fontSize": 40, "align": "center", "baseline": "alphabetic", "color": "#1a1a1a"}, "encoding": {"text": {"field": "label"}}}
      ]
    },
    {
      "encoding": {
        "x": {"field": "ppm", "type": "quantitative", "scale": {"domain": [590.88, -61.6], "nice": false, "zero": false}, "axis": null},
        "y": {"field": "v", "type": "quantitative", "scale": {"domain": [-513, 860], "nice": false, "zero": false}, "axis": null}
      },
      "layer": [
        {"data": {"name": "HGUb"}, "mark": {"type": "line", "stroke": "#111", "strokeWidth": 3.6, "strokeJoin": "round"}},
        {"data": {"name": "labels"}, "transform": [{"filter": "datum.trace === 'HGUb' && datum.kind === 'note'"}], "mark": {"type": "text", "font": "Liberation Serif", "fontSize": 56, "align": "center", "baseline": "alphabetic", "color": "#1a1a1a"}, "encoding": {"text": {"field": "label"}}}
      ]
    },
    {
      "encoding": {
        "x": {
          "field": "ppm", "type": "quantitative",
          "scale": {"domain": [590.88, -61.6], "nice": false, "zero": false},
          "axis": {
            "orient": "bottom", "offset": -143, "title": null, "domain": false, "grid": false,
            "values": [250,245,240,235,230,225,220,215,210,205,200,195,190,185,180,175,170,165,160,155,150,145,140,135,130,125,120,115,110,105,100,95,90,85,80,75,70,65,60,55,50,45,40,35,30,25,20,15,10,5,0,-5,-10,-15,-20,-25,-30,-35,-40,-45,-50],
            "tickColor": "#111", "tickWidth": 2.5,
            "tickSize": {"condition": {"test": "datum.value % 50 === 0", "value": 17}, "value": 7},
            "labelExpr": "datum.value % 50 === 0 ? '' + datum.value : ''",
            "labelFont": "Liberation Serif", "labelFontSize": 56, "labelColor": "#1a1a1a",
            "labelPadding": 1, "labelOverlap": false, "labelFlush": false, "labelBound": false
          }
        },
        "y": {"field": "v", "type": "quantitative", "scale": {"domain": [-180, 1193], "nice": false, "zero": false}, "axis": null}
      },
      "layer": [
        {"data": {"name": "HGUc"}, "mark": {"type": "line", "stroke": "#111", "strokeWidth": 3.6, "strokeJoin": "round"}},
        {"data": {"values": [{"ppm": 250, "ppm_end": -50, "v": -37}]}, "mark": {"type": "rule", "stroke": "#111", "strokeWidth": 4}, "encoding": {"x2": {"field": "ppm_end"}}},
        {"data": {"name": "labels"}, "transform": [{"filter": "datum.trace === 'HGUc' && datum.kind === 'note'"}], "mark": {"type": "text", "font": "Liberation Serif", "fontSize": 56, "align": "center", "baseline": "alphabetic", "color": "#1a1a1a"}, "encoding": {"text": {"field": "label"}}},
        {"data": {"name": "labels"}, "transform": [{"filter": "datum.trace === 'HGUc' && datum.kind === 'axtitle'"}], "mark": {"type": "text", "font": "Liberation Serif", "fontSize": 56, "align": "left", "baseline": "alphabetic", "color": "#1a1a1a"}, "encoding": {"text": {"field": "label"}}},
        {"data": {"name": "labels"}, "transform": [{"filter": "datum.trace === 'HGUc' && datum.kind === 'sup'"}], "mark": {"type": "text", "font": "Liberation Serif", "fontSize": 25, "align": "left", "baseline": "alphabetic", "color": "#1a1a1a"}, "encoding": {"text": {"field": "label"}}}
      ]
    }
  ],
  "resolve": {
    "scale": {"x": "independent", "y": "independent"},
    "axis": {"x": "independent", "y": "independent"}
  },
  "config": {
    "view": {"stroke": null},
    "axis": {"grid": false}
  }
}
